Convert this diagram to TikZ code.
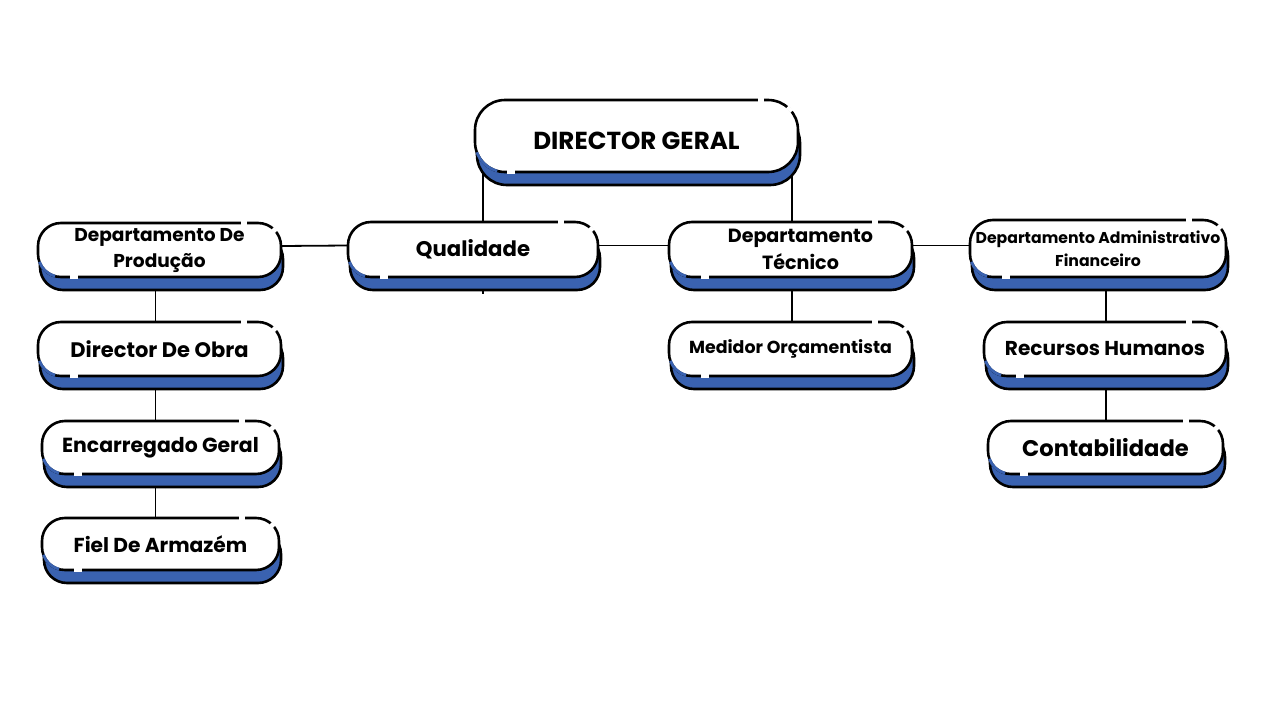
\documentclass[tikz,border=0pt]{standalone}
\usepackage{fontspec}
\setmainfont{Poppins}
\usetikzlibrary{shadows,calc}
\definecolor{boxblue}{HTML}{3A62B0}
\pgfdeclarelayer{bg}
\pgfsetlayers{bg,main}
\tikzset{
  box/.style={draw=black, line width=2.6pt, fill=white, rounded corners=#1,
    inner sep=0pt, outer sep=0pt, align=center, text=black,
    general shadow={shadow xshift=2pt, shadow yshift=-13pt, fill=boxblue,
      draw=black, line width=2.6pt}},
  box/.default=23pt,
  link/.style={line width=1.8pt, black},
  gapline/.style={white, line width=3.8pt},
  blueline/.style={boxblue, line width=2.8pt},
}
\newcommand\fsz[2]{\bfseries\fontsize{#1}{#2}\selectfont}
% #1 node name, #2 corner radius
\newcommand\boxgaps[2]{%
  \draw[gapline] ([xshift=-40pt]#1.north east) -- ([xshift=-34pt]#1.north east);
  \draw[gapline] ([shift={(-#2,-#2)}]#1.north east) ++(38:#2) arc (38:50:#2);
  \draw[blueline] ([shift={(#2,#2)}]#1.south west) ++(200:#2) arc (200:255:#2);
  \draw[gapline] ([xshift=32pt]#1.south west) -- ([xshift=40pt]#1.south west);
}
\begin{document}
\begin{tikzpicture}[x=1pt,y=-1pt]
\useasboundingbox (0,0) rectangle (1280,720);

\node[box=30pt, minimum width=323pt, minimum height=72pt, font=\fsz{24.6}{28}] (DG) at (636.5,136) {\raisebox{0pt}[\dimexpr\height+9pt\relax]{DIRECTOR GERAL}};
\boxgaps{DG}{30pt}

\node[box, minimum width=243pt, minimum height=54pt, font=\fsz{18.6}{26}] (DP) at (159.5,250) {Departamento De\\Produção};
\boxgaps{DP}{23pt}
\node[box, minimum width=250pt, minimum height=55pt, font=\fsz{21.2}{24}] (Q) at (473,249.5) {Qualidade};
\boxgaps{Q}{23pt}
\node[box, minimum width=243pt, minimum height=55pt, font=\fsz{19.1}{27}] (DT) at (790.5,249.5) {\hspace*{20pt}Departamento\\\hspace*{20pt}Técnico};
\boxgaps{DT}{23pt}
\node[box, minimum width=256pt, minimum height=57pt, font=\fsz{15.7}{23}] (DA) at (1098,248.5) {Departamento Administrativo\\Financeiro};
\boxgaps{DA}{23pt}

\node[box, minimum width=243pt, minimum height=54pt, font=\fsz{21}{24}] (DO) at (159.5,349) {Director De Obra};
\boxgaps{DO}{23pt}
\node[box, minimum width=243pt, minimum height=54pt, font=\fsz{17.4}{24}] (M) at (790.5,349) {Medidor Orçamentista};
\boxgaps{M}{23pt}
\node[box, minimum width=242pt, minimum height=54pt, font=\fsz{20.1}{24}] (RH) at (1105,349) {Recursos Humanos};
\boxgaps{RH}{23pt}

\node[box, minimum width=237pt, minimum height=53pt, font=\fsz{20.4}{24}] (EG) at (160.5,447.5) {Encarregado Geral};
\boxgaps{EG}{23pt}
\node[box, minimum width=235pt, minimum height=53pt, font=\fsz{22.6}{26}] (C) at (1105.5,447.5) {Contabilidade};
\boxgaps{C}{23pt}

\node[box, minimum width=237pt, minimum height=52pt, font=\fsz{20.2}{24}] (F) at (160.5,544) {Fiel De Armazém};
\boxgaps{F}{23pt}

\begin{pgfonlayer}{bg}
  \fill[white] (0,0) rectangle (1280,720);
  \coordinate (a) at ([xshift=8pt]DG.south west);
  \draw[link] (a) -- ($(a |- Q.south)+(0,17)$);
  \coordinate (b) at ([xshift=-6pt]DG.south east);
  \draw[link] (b) -- (b |- M.north);
  \draw[link] ([yshift=4pt]DP.east) -- ([yshift=4pt]Q.west);
  \draw[link] ([yshift=4pt]Q.east) -- ([yshift=4pt]DT.west);
  \draw[link] ([yshift=4pt]DT.east) -- ([yshift=4pt]DT.east -| DA.west);
  \coordinate (c) at ([xshift=-4pt]DP.south);
  \draw[link] (c) -- (c |- F.north);
  \coordinate (d) at ([xshift=1pt]RH.north |- DA.south);
  \draw[link] (d) -- (d |- C.north);
\end{pgfonlayer}
\end{tikzpicture}
\end{document}
